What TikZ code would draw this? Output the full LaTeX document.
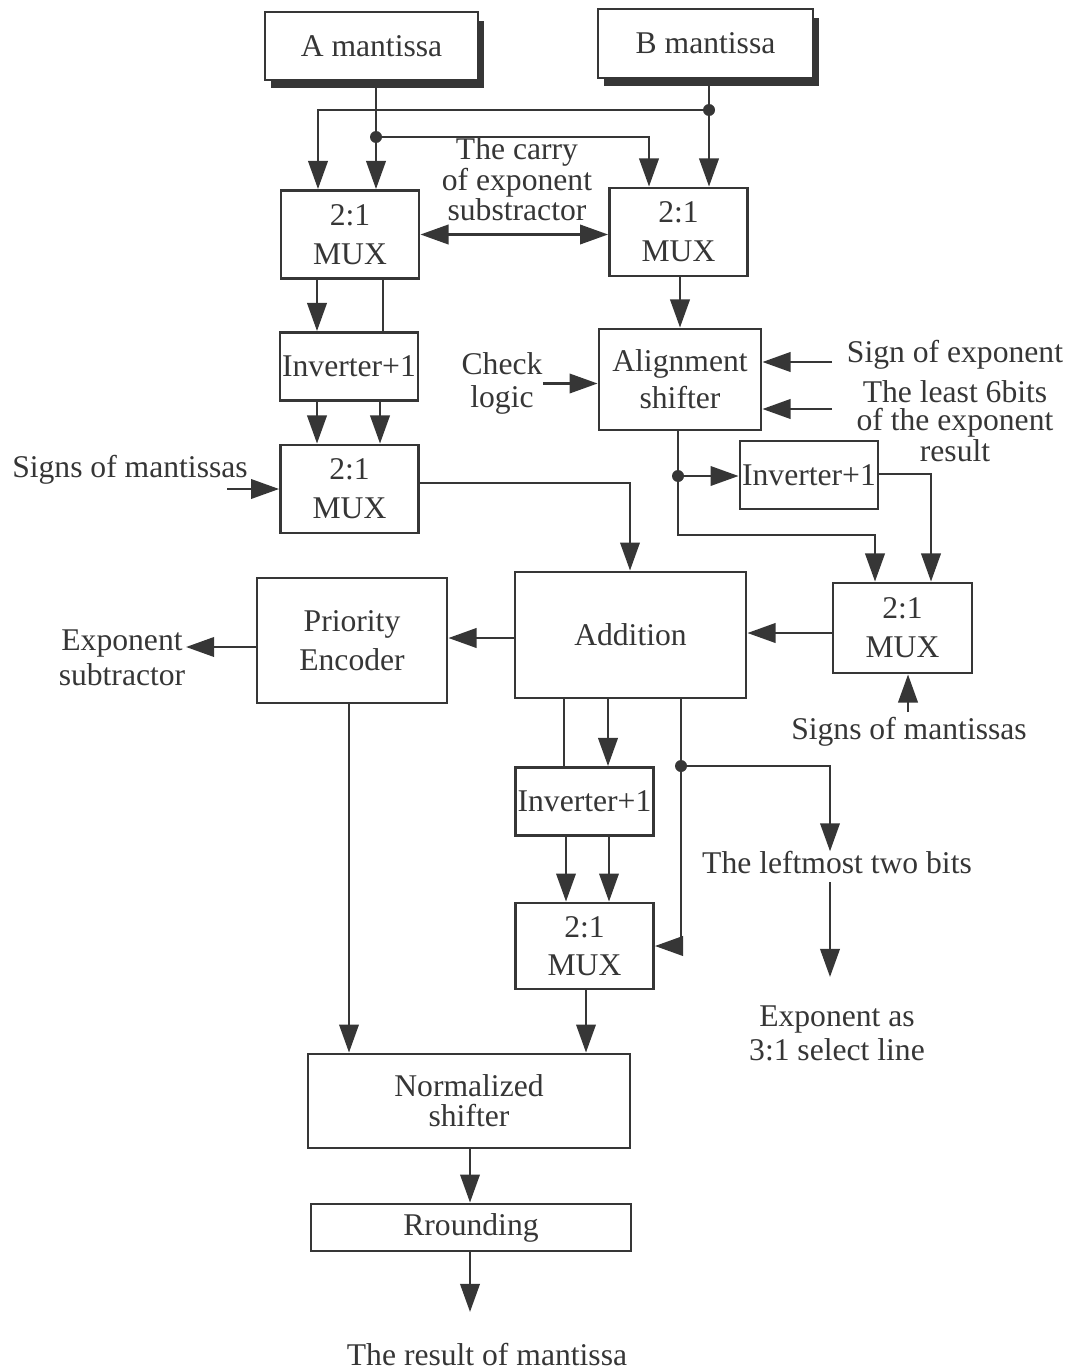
\documentclass[tikz,border=0pt]{standalone}
\usepackage{fontspec}
\setmainfont{Liberation Serif}
\usetikzlibrary{arrows.meta,calc,shadows}

\definecolor{ink}{HTML}{363636}

\begin{document}
\begin{tikzpicture}[x=0.02cm,y=-0.02cm,
  every node/.style={text=ink, font=\fontsize{18}{20}\selectfont},
  block/.style={draw=ink, line width=1.6pt, fill=white, inner sep=0pt, align=center},
  headbox/.style={block, drop shadow={shadow xshift=0.12cm, shadow yshift=-0.17cm, fill=ink, opacity=1}},
  mux/.style={block, minimum width=2.76cm, minimum height=1.76cm, font=\fontsize{18}{22}\selectfont},
  inv/.style={block, minimum width=2.76cm, minimum height=1.36cm},
  txt/.style={inner sep=0pt, align=center},
  wire/.style={draw=ink, line width=1.6pt},
  arr/.style={wire, -{Triangle[length=16pt,width=11pt]}},
  arr2/.style={wire, {Triangle[length=16pt,width=11pt]}-{Triangle[length=16pt,width=11pt]}},
  tap/.style={fill=ink}
]
\useasboundingbox (0,0) rectangle (1078,1372);

% ---------- blocks ----------
\node[headbox, minimum width=4.26cm, minimum height=1.36cm] (A) at (371.5,46) {A mantissa};
\node[headbox, minimum width=4.30cm, minimum height=1.38cm] (B) at (705.5,43.5) {B mantissa};

\node[mux] (M1) at (350,234.5) {2:1\\MUX};
\node[mux] (M2) at (678.5,232) {2:1\\MUX};
\node[inv] (IL) at (349,366.5) {Inverter+1};
\node[mux] (M3) at (349.5,489) {2:1\\MUX};
\node[block, minimum width=3.24cm, minimum height=2.02cm, font=\fontsize{18}{21}\selectfont] (AL) at (680,379.5) {Alignment\\shifter};
\node[inv] (IR) at (809,475) {Inverter+1};
\node[mux, minimum width=2.78cm, minimum height=1.80cm] (M4) at (902.5,628) {2:1\\MUX};
\node[block, minimum width=4.62cm, minimum height=2.52cm] (ADD) at (630.5,635) {Addition};
\node[block, minimum width=3.80cm, minimum height=2.50cm, font=\fontsize{18}{22}\selectfont] (PE) at (352,640.5) {Priority\\Encoder};
\node[inv] (IB) at (584.5,801.5) {Inverter+1};
\node[mux, minimum height=1.72cm] (M5) at (584.5,946) {2:1\\MUX};
\node[block, minimum width=6.44cm, minimum height=1.88cm, font=\fontsize{18}{17}\selectfont] (NS) at (469,1101) {Normalized\\shifter};
\node[block, minimum width=6.40cm, minimum height=0.94cm] (RD) at (471,1227.5) {Rrounding};

% ---------- free labels ----------
\node[txt, font=\fontsize{18}{16}\selectfont] (carry) at (517,179) {The carry\\of exponent\\substractor};
\node[txt] (sgnA) at (130,470) {Signs of mantissas};
\node[txt, font=\fontsize{18}{19}\selectfont] (chk) at (502,383.5) {Check\\logic};
\node[txt] (sexp) at (955,355) {Sign of exponent};
\node[txt, font=\fontsize{18}{16}\selectfont] (l6) at (955,421) {The least 6bits\\of the exponent\\result};
\node[txt, font=\fontsize{18}{20}\selectfont] (esub) at (122,657.5) {Exponent\\subtractor};
\node[txt] (sgnB) at (909,732) {Signs of mantissas};
\node[txt] (lm) at (837,863) {The leftmost two bits};
\node[txt, font=\fontsize{18}{19}\selectfont] (esel) at (837,1033.5) {Exponent as\\3:1 select line};
\node[txt] (res) at (487,1355) {The result of mantissa};

% ---------- columns, rows and junctions ----------
\coordinate (dA) at (376,137);
\coordinate (dB) at (709,110);
\coordinate (dC) at (678,476);
\coordinate (dD) at (681,766);
\coordinate (c317) at (317,0);
\coordinate (c318) at (318,0);
\coordinate (c380) at (380,0);
\coordinate (c383) at (383,0);
\coordinate (c649) at (649,0);
\coordinate (c680) at (680,0);
\coordinate (c630) at (630,0);
\coordinate (c875) at (875,0);
\coordinate (c931) at (931,0);
\coordinate (c564) at (564,0);
\coordinate (c566) at (566,0);
\coordinate (c586) at (586,0);
\coordinate (c608) at (608,0);
\coordinate (c609) at (609,0);
\coordinate (c830) at (830,0);
\coordinate (c349) at (349,0);
\coordinate (c470) at (470,0);
\coordinate (r474) at (0,474);
\coordinate (r483) at (0,483);
\coordinate (r535) at (0,535);
\coordinate (r633) at (0,633);
\coordinate (r638) at (0,638);
\coordinate (r647) at (0,647);
\coordinate (sA) at (227,489);
\coordinate (e1) at (832,362);
\coordinate (e2) at (832,409);
\coordinate (expTip) at (186,647);
\coordinate (sB) at (908,712);
\coordinate (lmA) at (830,882);
\coordinate (lmB) at (830,977);
\coordinate (outTip) at (470,1312);

% ---------- operand inputs ----------
\draw[wire] (A.south -| dA) -- (dA);
\draw[arr] (dA) -- (M1.north -| dA);
\draw[wire] (B.south -| dB) -- (dB);
\draw[arr] (dB) -- (M2.north -| dB);
\draw[arr] (dB) -| (M1.north -| c318);
\draw[arr] (dA) -| (M2.north -| c649);
\draw[arr2] (M1.east) -- (M1.east -| M2.west);

% ---------- left path ----------
\draw[arr] (M1.south -| c317) -- (IL.north -| c317);
\draw[wire] (M1.south -| c383) -- (IL.north -| c383);
\draw[arr] (IL.south -| c317) -- (M3.north -| c317);
\draw[arr] (IL.south -| c380) -- (M3.north -| c380);
\draw[arr] (sA) -- (M3.west);
\draw[arr] (M3.east |- r483) -| (ADD.north -| c630);

% ---------- right path ----------
\draw[arr] (M2.south -| c680) -- (AL.north -| c680);
\draw[arr] (chk.east) -- (chk.east -| AL.west);
\draw[arr] (e1) -- (e1 -| AL.east);
\draw[arr] (e2) -- (e2 -| AL.east);
\draw[wire] (AL.south -| dC) -- (dC);
\draw[arr] (dC) -- (dC -| IR.west);
\draw[arr] (dC) -- (dC |- r535) -| (M4.north -| c875);
\draw[arr] (IR.east |- r474) -| (M4.north -| c931);
\draw[arr] (sB) -- (M4.south -| sB);
\draw[arr] (M4.west |- r633) -- (ADD.east |- r633);

% ---------- addition and normalisation ----------
\draw[arr] (ADD.west |- r638) -- (PE.east |- r638);
\draw[arr] (PE.west |- r647) -- (expTip);
\draw[wire] (ADD.south -| c564) -- (IB.north -| c564);
\draw[arr] (ADD.south -| c608) -- (IB.north -| c608);
\draw[wire] (ADD.south -| dD) -- (dD);
\draw[arr] (dD) -| (lm.north -| c830);
\draw[arr] (dD) |- (M5.east);
\draw[arr] (lmA) -- (lmB);
\draw[arr] (IB.south -| c566) -- (M5.north -| c566);
\draw[arr] (IB.south -| c609) -- (M5.north -| c609);
\draw[arr] (M5.south -| c586) -- (NS.north -| c586);
\draw[arr] (PE.south -| c349) -- (NS.north -| c349);
\draw[arr] (NS.south -| c470) -- (RD.north -| c470);
\draw[arr] (RD.south -| c470) -- (outTip);

% ---------- junction dots ----------
\foreach \j in {dA,dB,dC,dD} \fill[tap] (\j) circle[radius=0.12cm];
\end{tikzpicture}
\end{document}
